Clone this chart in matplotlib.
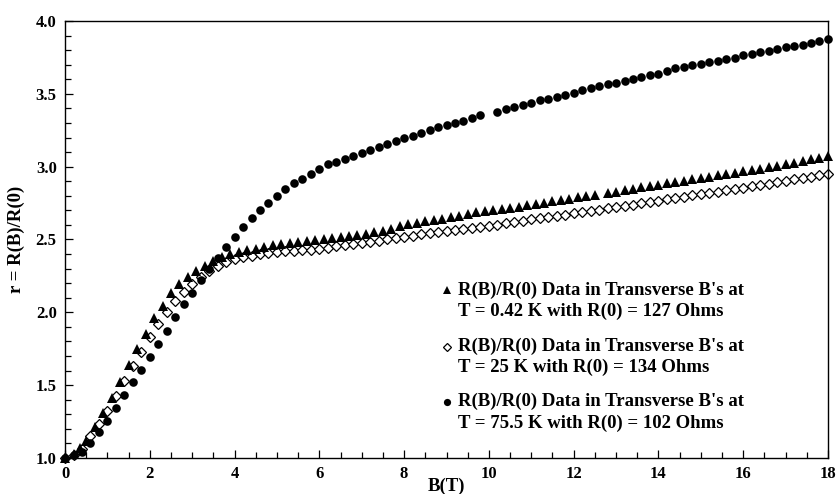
import matplotlib
matplotlib.use("Agg")
import matplotlib.pyplot as plt
from matplotlib.ticker import MultipleLocator, FormatStrFormatter

# R(B)/R(0) at T = 75.5 K (filled circles)
b_circle = [0.0, 0.2, 0.4, 0.6, 0.8, 1.0, 1.2, 1.4, 1.6, 1.8,
            2.0, 2.2, 2.4, 2.6, 2.8, 3.0, 3.2, 3.4, 3.6, 3.8,
            4.0, 4.2, 4.4, 4.6, 4.8, 5.0, 5.2, 5.4, 5.6, 5.8,
            6.0, 6.2, 6.4, 6.6, 6.8, 7.0, 7.2, 7.4, 7.6, 7.8,
            8.0, 8.2, 8.4, 8.6, 8.8, 9.0, 9.2, 9.4, 9.6, 9.8,
            10.2, 10.4, 10.6, 10.8, 11.0, 11.2, 11.4, 11.6, 11.8, 12.0,
            12.2, 12.4, 12.6, 12.8, 13.0, 13.2, 13.4, 13.6, 13.8, 14.0,
            14.2, 14.4, 14.6, 14.8, 15.0, 15.2, 15.4, 15.6, 15.8, 16.0,
            16.2, 16.4, 16.6, 16.8, 17.0, 17.2, 17.4, 17.6, 17.8, 18.0]
r_circle = [1.000, 1.020, 1.042, 1.100, 1.180, 1.257, 1.345, 1.430, 1.520, 1.605,
            1.695, 1.785, 1.875, 1.965, 2.055, 2.135, 2.220, 2.295, 2.375, 2.450,
            2.520, 2.585, 2.645, 2.700, 2.750, 2.800, 2.845, 2.885, 2.915, 2.950,
            2.985, 3.015, 3.035, 3.055, 3.075, 3.095, 3.115, 3.135, 3.155, 3.175,
            3.195, 3.212, 3.230, 3.250, 3.270, 3.288, 3.300, 3.316, 3.335, 3.355,
            3.377, 3.396, 3.410, 3.425, 3.440, 3.455, 3.464, 3.480, 3.492, 3.508,
            3.524, 3.542, 3.554, 3.565, 3.572, 3.590, 3.600, 3.618, 3.627, 3.636,
            3.659, 3.675, 3.686, 3.700, 3.705, 3.719, 3.725, 3.737, 3.748, 3.764,
            3.773, 3.785, 3.796, 3.806, 3.820, 3.828, 3.835, 3.847, 3.860, 3.874]

# R(B)/R(0) at T = 0.42 K (filled triangles)
b_tri = [0.0, 0.2, 0.35,
         0.5, 0.7, 0.9, 1.1, 1.3, 1.5, 1.7, 1.9, 2.1, 2.3, 2.5, 2.7, 2.9,
         3.1, 3.3, 3.5, 3.7, 3.9, 4.1, 4.3, 4.5, 4.7, 4.9,
         5.1, 5.3, 5.5, 5.7, 5.9, 6.1, 6.3, 6.5, 6.7, 6.9, 7.1, 7.3, 7.5,
         7.7, 7.9, 8.1, 8.3, 8.5, 8.7, 8.9, 9.1,
         9.3, 9.5, 9.7, 9.9, 10.1, 10.3, 10.5, 10.7, 10.9,
         11.1, 11.3, 11.5, 11.7, 11.9, 12.1, 12.3, 12.5,
         12.8, 13.0, 13.2, 13.4, 13.6, 13.8, 14.0, 14.2, 14.4, 14.6, 14.8,
         15.0, 15.2, 15.4, 15.6, 15.8, 16.0, 16.2, 16.4, 16.6, 16.8,
         17.0, 17.2, 17.4, 17.6, 17.8, 18.0]
r_tri = [1.000, 1.030, 1.070,
         1.120, 1.210, 1.310, 1.410, 1.520, 1.635, 1.745, 1.850, 1.960, 2.045, 2.130, 2.195, 2.245,
         2.285, 2.320, 2.352, 2.378, 2.400, 2.413, 2.425, 2.438, 2.448, 2.460,
         2.472, 2.477, 2.483, 2.490, 2.497, 2.505, 2.512, 2.520, 2.526, 2.532, 2.540, 2.548, 2.556,
         2.575, 2.594, 2.605, 2.615, 2.624, 2.633, 2.642, 2.652,
         2.663, 2.675, 2.688, 2.697, 2.703, 2.711, 2.718, 2.725, 2.734,
         2.743, 2.752, 2.762, 2.770, 2.780, 2.790, 2.797, 2.805,
         2.820, 2.829, 2.837, 2.846, 2.857, 2.866, 2.875, 2.885, 2.894, 2.902, 2.912,
         2.920, 2.930, 2.940, 2.950, 2.959, 2.968, 2.977, 2.986, 2.995, 3.006,
         3.016, 3.027, 3.038, 3.050, 3.062, 3.073]

# R(B)/R(0) at T = 25 K (open diamonds)
b_dia = [0.0, 0.2, 0.4, 0.6, 0.8, 1.0, 1.2, 1.4, 1.6, 1.8,
         2.0, 2.2, 2.4, 2.6, 2.8, 3.0, 3.2, 3.4, 3.6, 3.8,
         4.0, 4.2, 4.4, 4.6, 4.8, 5.0, 5.2, 5.4, 5.6, 5.8,
         6.0, 6.2, 6.4, 6.6, 6.8, 7.0, 7.2, 7.4, 7.6, 7.8,
         8.0, 8.2, 8.4, 8.6, 8.8, 9.0, 9.2, 9.4, 9.6, 9.8,
         10.0, 10.2, 10.4, 10.6, 10.8, 11.0, 11.2, 11.4, 11.6, 11.8,
         12.0, 12.2, 12.4, 12.6, 12.8, 13.0, 13.2, 13.4, 13.6, 13.8,
         14.0, 14.2, 14.4, 14.6, 14.8, 15.0, 15.2, 15.4, 15.6, 15.8,
         16.0, 16.2, 16.4, 16.6, 16.8, 17.0, 17.2, 17.4, 17.6, 17.8, 18.0]
r_dia = [1.000, 1.020, 1.060, 1.150, 1.235, 1.325, 1.425, 1.530, 1.630, 1.730,
         1.830, 1.920, 2.000, 2.080, 2.140, 2.195, 2.245, 2.285, 2.320, 2.345,
         2.365, 2.380, 2.390, 2.400, 2.410, 2.414, 2.418, 2.420, 2.425, 2.430,
         2.435, 2.442, 2.452, 2.462, 2.472, 2.478, 2.485, 2.492, 2.500, 2.508,
         2.517, 2.527, 2.537, 2.545, 2.552, 2.560, 2.566, 2.573, 2.580, 2.587,
         2.594, 2.602, 2.610, 2.620, 2.628, 2.638, 2.646, 2.654, 2.662, 2.670,
         2.680, 2.688, 2.696, 2.705, 2.713, 2.721, 2.730, 2.739, 2.748, 2.757,
         2.766, 2.776, 2.785, 2.794, 2.803, 2.811, 2.820, 2.829, 2.838, 2.846,
         2.855, 2.864, 2.873, 2.882, 2.893, 2.902, 2.912, 2.920, 2.930, 2.940, 2.950]

legend_lines = [
    ("^", "black", "R(B)/R(0) Data in Transverse B's at", "T = 0.42 K with R(0) = 127 Ohms"),
    ("D", "white", "R(B)/R(0) Data in Transverse B's at", "T = 25 K with R(0) = 134 Ohms"),
    ("o", "black", "R(B)/R(0) Data in Transverse B's at", "T = 75.5 K with R(0) = 102 Ohms"),
]

plt.rcParams["font.family"] = ["Liberation Serif", "DejaVu Serif"]
plt.rcParams["font.weight"] = "bold"

fig = plt.figure(figsize=(8.36, 4.94), dpi=100)
ax = fig.add_axes([0.0778, 0.0729, 0.9126, 0.8846])

ax.plot(b_dia, r_dia, linestyle="none", marker="D", markersize=5.2,
        markerfacecolor="white", markeredgecolor="black", markeredgewidth=0.9, clip_on=False)
ax.plot(b_tri, r_tri, linestyle="none", marker="^", markersize=6.8,
        color="black", markeredgewidth=0, clip_on=False)
ax.plot(b_circle, r_circle, linestyle="none", marker="o", markersize=6.2,
        color="black", markeredgewidth=0, clip_on=False)

ax.set_xlim(0, 18)
ax.set_ylim(1.0, 4.0)
ax.xaxis.set_major_locator(MultipleLocator(2))
ax.xaxis.set_minor_locator(MultipleLocator(0.5))
ax.yaxis.set_major_locator(MultipleLocator(0.5))
ax.yaxis.set_minor_locator(MultipleLocator(0.1))
ax.xaxis.set_major_formatter(FormatStrFormatter("%d"))
ax.yaxis.set_major_formatter(FormatStrFormatter("%.1f"))

ax.tick_params(which="both", direction="in", top=False, right=False,
               labelsize=12, width=0.9, pad=6)
ax.tick_params(which="major", length=6)
ax.tick_params(which="minor", length=4)
for s in ax.spines.values():
    s.set_linewidth(1.0)

ax.set_xlabel("B(T)", fontsize=13.5, fontweight="bold")
ax.set_ylabel("r = R(B)/R(0)", fontsize=13.5, fontweight="bold")
ax.xaxis.set_label_coords(0.5, -0.044)
ax.yaxis.set_label_coords(-0.052, 0.5)

# hand-built legend: marker sits on the first line of each entry
y_pos = [(0.3844, 0.3352), (0.2551, 0.2071), (0.1288, 0.0801)]
for (mk, fc, line1, line2), (y1, y2) in zip(legend_lines, y_pos):
    size = 5.8 if mk == "^" else (4.4 if mk == "D" else 5.2)
    ax.plot([0.5007], [y1], transform=ax.transAxes, linestyle="none", marker=mk,
            markersize=size, markerfacecolor=fc, markeredgecolor="black",
            markeredgewidth=0.9 if mk == "D" else 0, clip_on=False)
    ax.text(0.515, y1, line1, transform=ax.transAxes, fontsize=13.5,
            fontweight="bold", va="center", ha="left")
    ax.text(0.515, y2, line2, transform=ax.transAxes, fontsize=13.5,
            fontweight="bold", va="center", ha="left")

fig.savefig("out.png", dpi=100)
plt.close(fig)
